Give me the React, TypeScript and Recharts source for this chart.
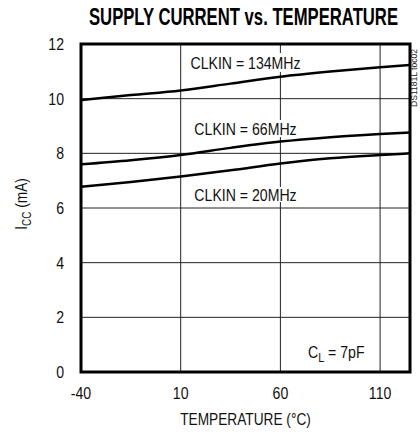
import { CartesianGrid, Label, Line, LineChart, ReferenceArea, XAxis, YAxis } from "recharts";

const temps = [-40, -15, 10, 35, 60, 85, 110, 125];
const clk134 = [9.95, 10.13, 10.3, 10.55, 10.8, 10.99, 11.15, 11.23];
const clk66 = [7.6, 7.75, 7.94, 8.2, 8.43, 8.59, 8.71, 8.76];
const clk20 = [6.78, 6.95, 7.15, 7.38, 7.63, 7.82, 7.94, 8.0];
const xTicks = [-40, 10, 60, 110];
const yTicks = [0, 2, 4, 6, 8, 10, 12];

const data = temps.map((t, i) => ({ t, c134: clk134[i], c66: clk66[i], c20: clk20[i] }));

// no narrow font installed, so squeeze Liberation Sans horizontally
const font = "'Liberation Sans', Arial, sans-serif";
const squeeze = 0.83;

function Narrow({ x, y, size = 17, anchor = "middle", dy = "0", rotate = 0, sx = squeeze, weight = "normal", color = "#111", children }: any) {
  return (
    <g transform={`translate(${x},${y}) rotate(${rotate})`}>
      <text transform={`scale(${sx},1)`} x={0} y={0} dy={dy} textAnchor={anchor} fontSize={size} fontWeight={weight} fontFamily={font} fill={color}>
        {children}
      </text>
    </g>
  );
}

function XTick({ x, y, payload }: any) {
  return <Narrow x={x} y={y} dy="0.71em">{payload.value}</Narrow>;
}

function YTick({ x, y, payload }: any) {
  return <Narrow x={x} y={y} dy="0.36em" anchor="end">{payload.value}</Narrow>;
}

function CurveLabel({ viewBox, text }: any) {
  const { x, y, width, height } = viewBox;
  return <Narrow x={x + width / 2} y={y + height / 2} dy="0.36em">{text}</Narrow>;
}

function CapLabel({ viewBox }: any) {
  const { x, y, width, height } = viewBox;
  return (
    <Narrow x={x + width / 2} y={y + height / 2} dy="0.36em">
      C<tspan fontSize={13} dy={4}>L</tspan>
      <tspan dy={-4}> = 7pF</tspan>
    </Narrow>
  );
}

function XLabel({ viewBox }: any) {
  return <Narrow x={viewBox.x + viewBox.width / 2} y={425} size={16.5}>TEMPERATURE (°C)</Narrow>;
}

function YLabel({ viewBox }: any) {
  const cy = viewBox.y + viewBox.height / 2 - 4;
  return (
    <Narrow x={21} y={cy} size={16.5} dy="0.36em" rotate={-90}>
      I<tspan fontSize={12} dy={4}>CC</tspan>
      <tspan dy={-4}> (mA)</tspan>
    </Narrow>
  );
}

export default function App() {
  return (
    <div style={{ position: "absolute", left: 0, top: 0, width: 420, height: 437, background: "#fff" }}>
      <LineChart width={420} height={437} data={data} margin={{ top: 44, right: 10, bottom: 35, left: 41 }}>
        <CartesianGrid stroke="#222" strokeWidth={1} />
        <XAxis
          dataKey="t"
          type="number"
          domain={[-40, 125]}
          ticks={xTicks}
          allowDataOverflow
          axisLine={false}
          tickLine={false}
          tickSize={0}
          tickMargin={15}
          height={30}
          tick={<XTick />}
        >
          <Label content={<XLabel />} />
        </XAxis>
        <YAxis
          type="number"
          domain={[0, 12]}
          ticks={yTicks}
          allowDataOverflow
          axisLine={false}
          tickLine={false}
          tickSize={0}
          tickMargin={17}
          width={40}
          tick={<YTick />}
        >
          <Label content={<YLabel />} />
        </YAxis>
        <ReferenceArea x1={14.5} x2={70.5} y1={10.98} y2={11.67} fill="#fff" fillOpacity={1} stroke="none" label={<CurveLabel text="CLKIN = 134MHz" />} />
        <ReferenceArea x1={17} x2={68} y1={8.6} y2={9.22} fill="#fff" fillOpacity={1} stroke="none" label={<CurveLabel text="CLKIN = 66MHz" />} />
        <ReferenceArea x1={17} x2={68} y1={6.22} y2={6.77} fill="#fff" fillOpacity={1} stroke="none" label={<CurveLabel text="CLKIN = 20MHz" />} />
        <ReferenceArea x1={71} x2={105} y1={0.55} y2={0.95} fill="none" stroke="none" label={<CapLabel />} />
        <ReferenceArea x1={-40} x2={125} y1={0} y2={12} fill="none" stroke="#000" strokeWidth={3} />
        <Line dataKey="c134" type="monotone" stroke="#000" strokeWidth={2.5} dot={false} isAnimationActive={false} />
        <Line dataKey="c66" type="monotone" stroke="#000" strokeWidth={2.5} dot={false} isAnimationActive={false} />
        <Line dataKey="c20" type="monotone" stroke="#000" strokeWidth={2.5} dot={false} isAnimationActive={false} />
      </LineChart>
      <svg width={420} height={437} style={{ position: "absolute", left: 0, top: 0, pointerEvents: "none" }}>
        <Narrow x={243.5} y={25} size={23.5} sx={0.71} weight="bold" color="#000">
          SUPPLY CURRENT vs. TEMPERATURE
        </Narrow>
        <Narrow x={417} y={78} size={9} sx={0.95} rotate={-90} color="#222">
          DS1181L toc02
        </Narrow>
      </svg>
    </div>
  );
}
